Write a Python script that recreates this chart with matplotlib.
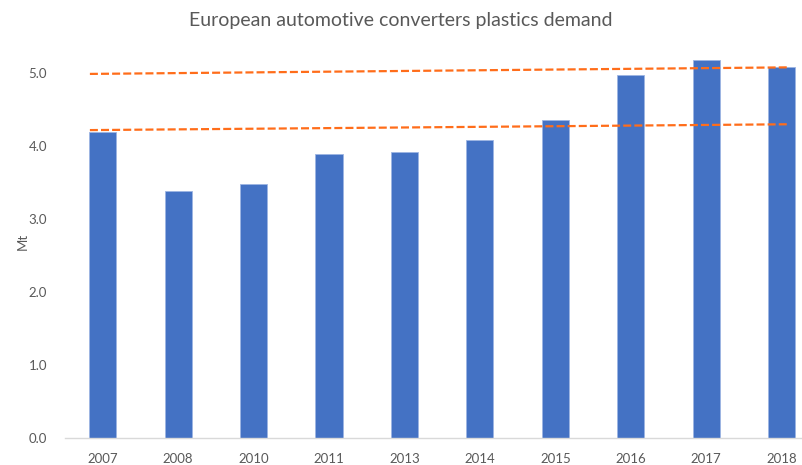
import matplotlib.pyplot as plt
import numpy as np

# values (Mt)
years = ["2007", "2008", "2010", "2011", "2013", "2014", "2015", "2016", "2017", "2018"]
demand = [4.19, 3.39, 3.48, 3.89, 3.92, 4.09, 4.36, 4.98, 5.18, 5.08]

# the two dashed orange guide lines (start / end level)
upper_line = [4.99, 5.08]
lower_line = [4.22, 4.30]
line_x = [-0.17, 9.1]

plt.rcParams['font.family'] = ['Lato', 'DejaVu Sans']

fig = plt.figure(figsize=(8.02, 4.65), dpi=100)
ax = fig.add_axes([65 / 802, 27 / 465, 1 - 65 / 802, 394 / 465])

x = np.arange(len(years))
ax.bar(x, demand, width=0.36, color='#4472C4', edgecolor='#9DB5E3', linewidth=0.6, zorder=2)

for lvl in (upper_line, lower_line):
    ax.plot(line_x, lvl, color='#FF6D1A', linewidth=1.6, dashes=(3.6, 1.4), zorder=3)

ax.set_xlim(-0.5, 9.27)
ax.set_ylim(0, 5.4)
ax.set_xticks(x)
ax.set_xticklabels(years)
ax.set_yticks(np.arange(0, 5.01, 1.0))
ax.set_yticklabels([f"{v:.1f}" for v in np.arange(0, 5.01, 1.0)])
ax.tick_params(axis='both', length=0, labelsize=9.5, colors='#595959')
ax.tick_params(axis='y', pad=13)
ax.tick_params(axis='x', pad=11)

for s in ('top', 'right', 'left'):
    ax.spines[s].set_visible(False)
ax.spines['bottom'].set_color('#D9D9D9')
ax.spines['bottom'].set_linewidth(1.0)

ax.set_ylabel("Mt", fontsize=9.5, color='#595959')
ax.yaxis.set_label_coords((29 - 65) / 737, 0.5)
fig.text(0.5, 0.955, "European automotive converters plastics demand",
         ha='center', va='center', fontsize=14, color='#595959')

fig.savefig("out.png", dpi=100)
